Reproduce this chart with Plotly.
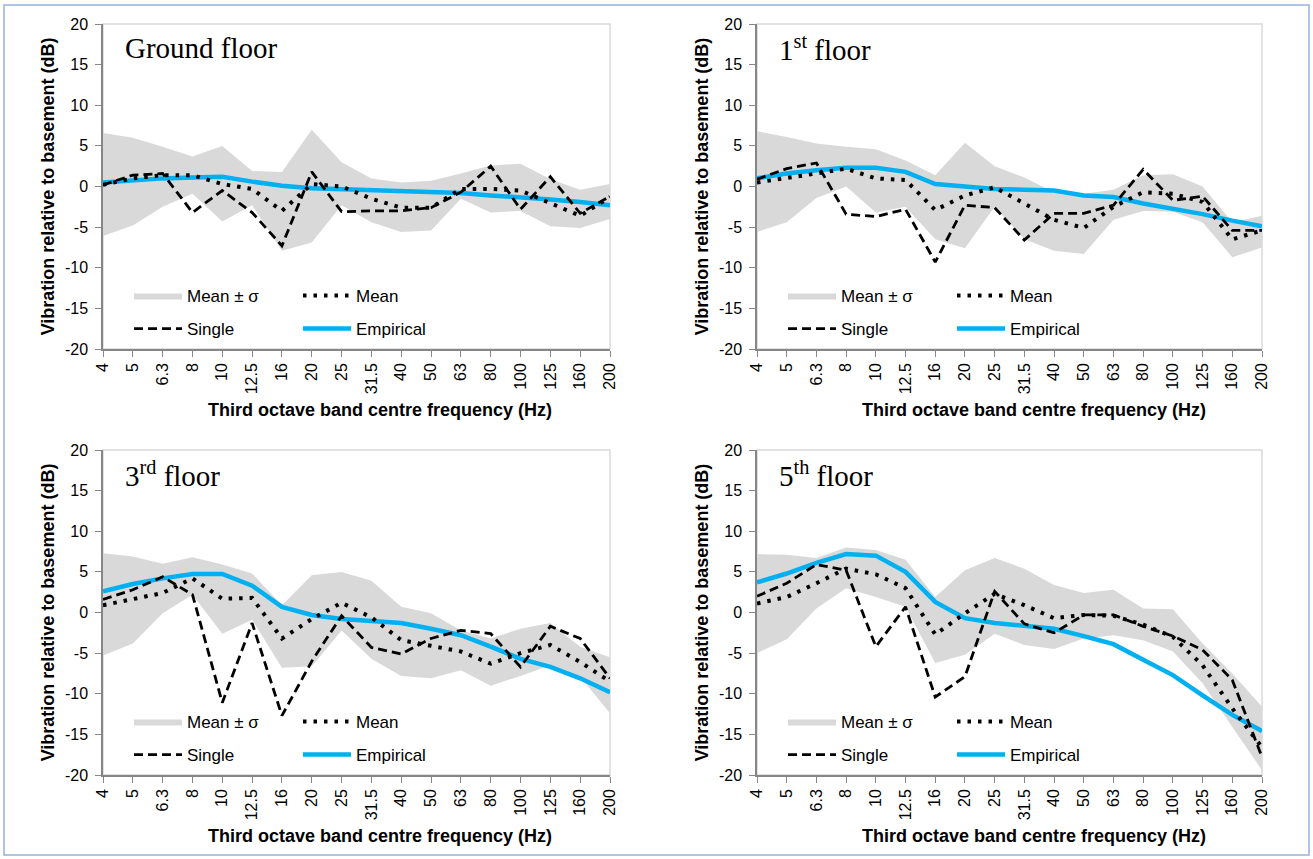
import plotly.graph_objects as go

# ---------------- data ----------------
freqs = ["4", "5", "6.3", "8", "10", "12.5", "16", "20", "25", "31.5",
         "40", "50", "63", "80", "100", "125", "160", "200"]
y_tick_vals = [-20, -15, -10, -5, 0, 5, 10, 15, 20]
y_tick_text = ["-20", "-15", "-10", "-5", "0", "5", "10", "15", "20"]

# Ground floor
gf_upper = [6.6, 6.0, 4.9, 3.7, 5.0, 1.9, 1.8, 7.0, 3.0, 1.0, 0.5, 0.7, 1.6, 2.6, 2.8, 0.9, -0.4, 0.3]
gf_lower = [-6.1, -4.8, -2.5, -0.9, -4.3, -2.3, -7.9, -6.9, -2.3, -4.4, -5.6, -5.4, -1.5, -3.2, -3.0, -4.9, -5.1, -4.0]
gf_mean = [0.2, 1.0, 1.4, 1.4, 0.3, -0.3, -3.0, 0.3, 0.0, -1.5, -2.6, -2.6, -0.3, -0.3, -0.5, -2.1, -3.6, -1.3]
gf_single = [0.2, 1.4, 1.6, -3.2, -0.5, -3.2, -7.3, 1.8, -3.1, -3.0, -3.0, -2.6, -0.7, 2.5, -2.8, 1.2, -3.3, -1.2]
gf_empirical = [0.5, 0.8, 1.0, 1.1, 1.2, 0.6, 0.1, -0.2, -0.3, -0.4, -0.5, -0.7, -0.8, -1.1, -1.3, -1.6, -1.9, -2.3]

# 1st floor
f1_upper = [6.8, 6.1, 5.3, 4.9, 4.6, 3.2, 1.4, 5.4, 2.5, 1.1, -0.7, -0.9, -0.4, 1.4, 1.5, 0.0, -4.4, -3.6]
f1_lower = [-5.6, -4.4, -1.4, 0.0, -3.2, -2.5, -6.5, -7.6, -2.5, -6.5, -7.9, -8.3, -4.1, -3.0, -3.1, -4.4, -8.7, -7.5]
f1_mean = [0.5, 1.0, 1.6, 2.2, 1.0, 0.8, -2.9, -1.1, -0.1, -2.1, -4.1, -5.1, -2.5, -0.7, -0.9, -1.9, -6.5, -5.4]
f1_single = [0.9, 2.2, 2.9, -3.4, -3.7, -2.8, -9.3, -2.3, -2.6, -6.6, -3.3, -3.3, -2.3, 2.1, -1.7, -1.2, -5.4, -5.4]
f1_empirical = [1.0, 1.6, 2.0, 2.3, 2.3, 1.8, 0.3, 0.0, -0.3, -0.4, -0.5, -1.1, -1.3, -2.1, -2.7, -3.4, -4.2, -4.9]

# 3rd floor
f3_upper = [7.3, 6.9, 6.0, 6.8, 5.9, 4.8, 0.9, 4.6, 5.0, 3.9, 0.7, -0.1, -2.2, -3.2, -2.0, -1.3, -4.2, -5.5]
f3_lower = [-5.3, -3.8, -0.1, 2.2, -2.6, -0.9, -6.8, -6.6, -2.2, -5.7, -7.8, -8.1, -7.1, -9.0, -7.8, -6.5, -7.9, -12.4]
f3_mean = [0.9, 1.6, 2.4, 4.2, 1.7, 1.8, -3.2, -0.8, 1.2, -0.6, -3.4, -4.1, -4.8, -6.3, -5.0, -4.0, -6.1, -8.5]
f3_single = [1.6, 2.8, 4.4, 2.2, -11.1, -1.3, -12.7, -6.0, -0.4, -4.3, -5.1, -3.2, -2.2, -2.6, -6.7, -1.7, -3.2, -8.1]
f3_empirical = [2.6, 3.5, 4.2, 4.75, 4.75, 3.3, 0.7, -0.3, -0.8, -1.1, -1.3, -2.0, -2.8, -4.2, -5.7, -6.7, -8.1, -9.8]

# 5th floor
f5_upper = [7.2, 7.1, 6.7, 8.0, 7.7, 6.5, 1.9, 5.2, 6.7, 5.4, 3.4, 2.4, 2.8, 0.5, 0.4, -3.8, -7.5, -11.6]
f5_lower = [-5.0, -3.3, 0.5, 3.0, 1.9, 0.7, -6.2, -5.2, -2.6, -4.0, -4.5, -3.2, -2.8, -3.4, -4.8, -8.7, -14.1, -19.4]
f5_mean = [1.1, 1.9, 3.6, 5.4, 4.7, 3.0, -2.7, -0.1, 2.3, 0.9, -0.7, -0.3, -0.4, -1.5, -3.0, -6.5, -11.8, -16.6]
f5_single = [2.0, 3.6, 5.9, 5.2, -4.2, 0.7, -10.4, -7.9, 2.6, -1.4, -2.5, -0.3, -0.3, -1.7, -2.9, -4.6, -8.3, -17.8]
f5_empirical = [3.7, 4.8, 6.1, 7.2, 7.0, 5.0, 1.3, -0.7, -1.3, -1.6, -2.0, -2.9, -3.9, -5.8, -7.7, -10.2, -12.6, -14.6]

panel_titles = ["Ground floor", "1<sup>st</sup> floor", "3<sup>rd</sup> floor", "5<sup>th</sup> floor"]
series_names = ["Mean \u00b1 \u03c3", "Mean", "Single", "Empirical"]
x_title = "Third octave band centre frequency (Hz)"
y_title = "Vibration relative to basement (dB)"

# ---------------- styling ----------------
W, H = 1313, 859
SANS = "Arial, 'Liberation Sans', sans-serif"
SERIF = "'Times New Roman', 'Liberation Serif', serif"
BAND = "#d9d9d9"
BLUE = "#00b0f0"
AXIS = "#868686"
TICK_SIZE = 16
LEG_SIZE = 17
TITLE_SIZE = 18


def px_x(p):
    return p / W


def px_y(p):
    return 1 - p / H


panels = [
    dict(up=gf_upper, lo=gf_lower, mean=gf_mean, single=gf_single, emp=gf_empirical,
         xd=[px_x(103), px_x(610)], yd=[px_y(349), px_y(24)], ox=103, oy=0),
    dict(up=f1_upper, lo=f1_lower, mean=f1_mean, single=f1_single, emp=f1_empirical,
         xd=[px_x(757), px_x(1262)], yd=[px_y(349), px_y(24)], ox=757, oy=0),
    dict(up=f3_upper, lo=f3_lower, mean=f3_mean, single=f3_single, emp=f3_empirical,
         xd=[px_x(103), px_x(610)], yd=[px_y(775), px_y(450)], ox=103, oy=426),
    dict(up=f5_upper, lo=f5_lower, mean=f5_mean, single=f5_single, emp=f5_empirical,
         xd=[px_x(757), px_x(1262)], yd=[px_y(775), px_y(450)], ox=757, oy=426),
]

fig = go.Figure()
layout = dict(
    width=W, height=H, margin=dict(l=0, r=0, t=0, b=0, autoexpand=False),
    paper_bgcolor="white", plot_bgcolor="white",
    font=dict(family=SANS, size=15, color="black"),
    showlegend=True, shapes=[], annotations=[],
)

for i, p in enumerate(panels):
    n = "" if i == 0 else str(i + 1)
    xa, ya = "x" + n, "y" + n
    legA = "legend" if i == 0 else "legend" + str(2 * i + 1)
    legB = "legend" + str(2 * i + 2)

    fig.add_trace(go.Scatter(x=freqs, y=p["lo"], xaxis=xa, yaxis=ya, mode="lines",
                             line=dict(width=0, color=BAND), showlegend=False,
                             hoverinfo="skip"))
    fig.add_trace(go.Scatter(x=freqs, y=p["up"], xaxis=xa, yaxis=ya, mode="lines",
                             line=dict(width=0, color=BAND), fill="tonexty",
                             fillcolor=BAND, name=series_names[0], legend=legA,
                             legendrank=1))
    fig.add_trace(go.Scatter(x=freqs, y=p["emp"], xaxis=xa, yaxis=ya, mode="lines",
                             line=dict(width=4.5, color=BLUE), name=series_names[3],
                             legend=legB, legendrank=2))
    fig.add_trace(go.Scatter(x=freqs, y=p["mean"], xaxis=xa, yaxis=ya, mode="lines",
                             line=dict(width=4, color="black", dash="3.5px,7px"),
                             name=series_names[1], legend=legA, legendrank=2))
    fig.add_trace(go.Scatter(x=freqs, y=p["single"], xaxis=xa, yaxis=ya, mode="lines",
                             line=dict(width=2.8, color="black", dash="9px,5px"),
                             name=series_names[2], legend=legB, legendrank=1))

    layout["xaxis" + n] = dict(
        domain=p["xd"], anchor=ya, type="category", categoryorder="array",
        categoryarray=freqs, range=[0, len(freqs) - 1], showgrid=False, zeroline=False,
        showline=True, linecolor=AXIS, linewidth=1.5, ticks="outside", ticklen=6,
        tickcolor=AXIS, tickwidth=1.3, tickangle=-90,
        tickfont=dict(size=TICK_SIZE, family=SANS), automargin=False,
    )
    layout["yaxis" + n] = dict(
        domain=p["yd"], anchor=xa, range=[-20, 20], tickvals=y_tick_vals,
        ticktext=y_tick_text, showgrid=False, zeroline=False, showline=True,
        linecolor=AXIS, linewidth=1.5, ticks="outside", ticklen=6, tickcolor=AXIS,
        tickwidth=1.3, tickfont=dict(size=TICK_SIZE, family=SANS), automargin=False,
        ticklabelstandoff=4,
        title=dict(text=y_title, font=dict(size=TITLE_SIZE, family=SANS, weight="bold"),
                   standoff=6),
    )
    # light plot-area frame (top / right)
    layout["shapes"].append(dict(type="rect", xref=xa + " domain", yref=ya + " domain",
                                 x0=0, x1=1, y0=0, y1=1, layer="below",
                                 line=dict(color="#d9d9d9", width=1.5)))
    # panel title
    layout["annotations"].append(dict(
        text=panel_titles[i], xref="paper", yref="paper",
        x=px_x(p["ox"] + 20), y=px_y(p["oy"] + 48), xanchor="left", yanchor="middle",
        showarrow=False, font=dict(family=SERIF, size=29, color="black")))
    # x-axis title
    layout["annotations"].append(dict(
        text=x_title, xref="paper", yref="paper",
        x=px_x(p["ox"] + 277), y=px_y(p["oy"] + 410), xanchor="center", yanchor="middle",
        showarrow=False, font=dict(family=SANS, size=TITLE_SIZE, weight="bold", color="black")))
    # legends (two rows of two entries)
    common = dict(orientation="h", xref="paper", yref="paper", xanchor="left",
                  yanchor="middle", bgcolor="rgba(0,0,0,0)", entrywidth=106,
                  entrywidthmode="pixels", itemwidth=48, traceorder="normal",
                  font=dict(family=SANS, size=LEG_SIZE, color="black"), tracegroupgap=0)
    layout[legA] = dict(common, x=px_x(p["ox"] + 26), y=px_y(p["oy"] + 296))
    layout[legB] = dict(common, x=px_x(p["ox"] + 26), y=px_y(p["oy"] + 329))

# outer light-blue frame
layout["shapes"].append(dict(type="rect", xref="paper", yref="paper",
                             x0=px_x(4), x1=px_x(1309), y0=px_y(855), y1=px_y(5),
                             line=dict(color="#95b3d7", width=1.5)))

fig.update_layout(**layout)
fig.write_html("out.html", config={"displayModeBar": False},
               post_script="document.body.style.margin='0';document.body.style.overflow='hidden';")
